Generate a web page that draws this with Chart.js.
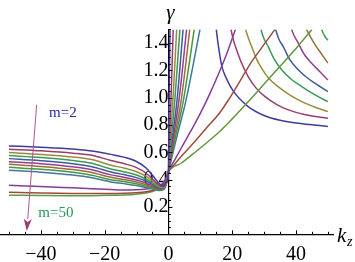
<!DOCTYPE html>
<html>
<head>
<meta charset="utf-8">
<script src="https://cdn.jsdelivr.net/npm/chart.js@4.4.0/dist/chart.umd.min.js"></script>
<style>
  html, body { margin: 0; padding: 0; background: #fff; }
</style>
</head>
<body>
<canvas id="chart" width="355" height="262"></canvas>
<script>
// ───────────────
// Data: gamma against k_z, twelve curves (m = 2 ... 50)

// left branches, all sampled on the same k_z values
const kLeft = [-50, -40, -30, -24, -18, -14, -10, -7, -5, -3.5, -2.5, -1.5, -0.7, 0];

const left1  = [0.647, 0.638, 0.625, 0.610, 0.585, 0.565, 0.533, 0.485, 0.432, 0.388, 0.364, 0.356, 0.380, 0.45];
const left2  = [0.623, 0.611, 0.594, 0.578, 0.540, 0.518, 0.488, 0.447, 0.405, 0.371, 0.353, 0.350, 0.378, 0.45];
const left3  = [0.598, 0.585, 0.566, 0.547, 0.506, 0.485, 0.458, 0.424, 0.390, 0.360, 0.346, 0.345, 0.376, 0.45];
const left4  = [0.576, 0.562, 0.541, 0.520, 0.478, 0.458, 0.434, 0.405, 0.376, 0.351, 0.340, 0.341, 0.374, 0.45];
const left5  = [0.554, 0.539, 0.517, 0.495, 0.456, 0.437, 0.415, 0.390, 0.365, 0.344, 0.335, 0.338, 0.372, 0.45];
const left6  = [0.532, 0.517, 0.494, 0.472, 0.435, 0.418, 0.398, 0.376, 0.355, 0.338, 0.331, 0.335, 0.370, 0.45];
const left7  = [0.513, 0.497, 0.474, 0.452, 0.417, 0.401, 0.383, 0.363, 0.346, 0.333, 0.327, 0.332, 0.368, 0.45];
const left8  = [0.491, 0.476, 0.454, 0.433, 0.400, 0.386, 0.370, 0.352, 0.338, 0.328, 0.324, 0.330, 0.366, 0.45];
const left9  = [0.469, 0.455, 0.434, 0.414, 0.383, 0.371, 0.357, 0.342, 0.331, 0.323, 0.321, 0.328, 0.364, 0.45];
const left10 = [0.359, 0.350, 0.340, 0.334, 0.328, 0.325, 0.326, 0.331, 0.338, 0.348, 0.360, 0.382, 0.413, 0.46];
const left11 = [0.308, 0.303, 0.299, 0.298, 0.298, 0.300, 0.305, 0.312, 0.321, 0.334, 0.348, 0.372, 0.408, 0.458];
const left12 = [0.286, 0.284, 0.283, 0.283, 0.285, 0.288, 0.294, 0.302, 0.313, 0.327, 0.342, 0.368, 0.404, 0.455];

// steep rise just right of k_z = 0 (curves 1-9): k_z where gamma hits these levels
const riseGamma = [0.7, 0.98, 1.5];
const rise1 = [0.09, 0.2, 0.5];
const rise2 = [0.36, 0.8, 1.5];
const rise3 = [0.63, 1.4, 2.6];
const rise4 = [0.9, 2.0, 3.6];
const rise5 = [1.2, 2.7, 4.6];
const rise6 = [1.5, 3.3, 5.7];
const rise7 = [1.8, 4.0, 6.7];
const rise8 = [2.1, 4.7, 8.1];
const rise9 = [2.5, 5.5, 9.9];

// slower rise on the right (curves 10-12)
const tailK10 = [2, 4, 7, 10, 13, 16, 18.5, 21];
const tailG10 = [0.545, 0.63, 0.755, 0.885, 1.03, 1.19, 1.335, 1.5];
const tailK11 = [2, 4, 7.8, 12, 16.1, 19, 22.4, 26, 30, 33.4];
const tailG11 = [0.515, 0.57, 0.667, 0.78, 0.89, 0.99, 1.12, 1.26, 1.39, 1.5];
const tailK12 = [4, 7.8, 12, 16.4, 20, 25, 30, 35, 40, 45];
const tailG12 = [0.52, 0.59, 0.67, 0.76, 0.845, 0.97, 1.1, 1.23, 1.36, 1.5];

// falling right branches (curves 1-8)
const arcK1 = [15.0, 15.6, 16.7, 18.2, 20.3, 25, 30, 35, 42, 50];
const arcG1 = [1.5, 1.39, 1.235, 1.14, 1.05, 0.935, 0.87, 0.835, 0.81, 0.79];
const arcK2 = [19.6, 20.4, 21.4, 23, 25, 27.5, 30.3, 34, 37.6, 43, 50];
const arcG2 = [1.5, 1.42, 1.35, 1.25, 1.155, 1.07, 1.008, 0.95, 0.911, 0.875, 0.85];
const arcK3 = [24.2, 25, 26.1, 27.5, 29.2, 31.5, 34.4, 38, 41.8, 46, 50];
const arcG3 = [1.5, 1.44, 1.374, 1.29, 1.216, 1.14, 1.081, 1.02, 0.971, 0.93, 0.898];
const arcK4 = [29, 30, 31.3, 33.2, 35.5, 38.5, 41.8, 46, 50];
const arcG4 = [1.5, 1.43, 1.374, 1.28, 1.204, 1.135, 1.081, 1.02, 0.971];
const arcK5 = [33.6, 34.6, 36, 38, 40.7, 43, 45.9, 50];
const arcG5 = [1.5, 1.43, 1.374, 1.28, 1.204, 1.155, 1.106, 1.045];
const arcK6 = [38.6, 39.5, 40.7, 42.5, 44.9, 47.5, 50];
const arcG6 = [1.5, 1.45, 1.40, 1.32, 1.253, 1.19, 1.13];
const arcK7 = [43.3, 44.4, 45.9, 48, 50];
const arcG7 = [1.5, 1.45, 1.39, 1.32, 1.253];
const arcK8 = [48, 49, 50];
const arcG8 = [1.5, 1.45, 1.42];

// axes
const xTickValues = [-40, -20, 0, 20, 40];
const xTickLabels = ['\u221240', '\u221220', '0', '20', '40'];
const yTickValues = [0.2, 0.4, 0.6, 0.8, 1.0, 1.2, 1.4];
const yTickLabels = ['0.2', '0.4', '0.6', '0.8', '1.0', '1.2', '1.4'];

// annotation anchors (data units)
const labelTop    = { text: 'm=2',  k: -37.4, g: 0.89 };
const labelBottom = { text: 'm=50', k: -40.8, g: 0.158 };
const arrowFrom = [-41.3, 0.948];
const arrowTo   = [-44.4, 0.024];

// Mathematica-style default colours
const curveColors = [
  'rgb(64,61,153)', 'rgb(153,61,113)', 'rgb(153,139,61)', 'rgb(61,153,85)',
  'rgb(61,90,153)', 'rgb(153,61,144)', 'rgb(153,109,61)', 'rgb(67,153,61)',
  'rgb(61,121,153)', 'rgb(132,61,153)', 'rgb(153,78,61)', 'rgb(98,153,61)'
];

// ───────────────
const zip = (ks, gs) => ks.map((k, i) => ({ x: k, y: gs[i] }));

function curve(points, color) {
  return {
    data: points,
    borderColor: color,
    borderWidth: 1.5,
    pointRadius: 0,
    fill: false,
    cubicInterpolationMode: 'monotone'
  };
}

const lefts = [left1, left2, left3, left4, left5, left6, left7, left8, left9, left10, left11, left12];
const rises = [rise1, rise2, rise3, rise4, rise5, rise6, rise7, rise8, rise9];
const arcs  = [[arcK1, arcG1], [arcK2, arcG2], [arcK3, arcG3], [arcK4, arcG4],
               [arcK5, arcG5], [arcK6, arcG6], [arcK7, arcG7], [arcK8, arcG8]];
const tails = [[tailK10, tailG10], [tailK11, tailG11], [tailK12, tailG12]];

const datasets = [];
rises.forEach((r, i) => {
  datasets.push(curve(zip(kLeft, lefts[i]).concat(zip(r, riseGamma)), curveColors[i]));
});
tails.forEach(([ks, gs], i) => {
  datasets.push(curve(zip(kLeft, lefts[9 + i]).concat(zip(ks, gs)), curveColors[9 + i]));
});
arcs.forEach(([ks, gs], i) => {
  datasets.push(curve(zip(ks, gs), curveColors[i]));
});

// ───────────────
// minor/major tick marks, axis titles, m labels and the arrow
const decorPlugin = {
  id: 'decor',
  afterDraw(chart) {
    const { ctx, chartArea, scales: { x, y } } = chart;
    const x0 = x.getPixelForValue(0);
    const y0 = y.getPixelForValue(0);
    ctx.save();

    // ticks: x every 5, y every 0.05, pointing into the positive side
    ctx.strokeStyle = '#000';
    ctx.lineWidth = 1;
    ctx.beginPath();
    for (let v = -50; v <= 50; v += 5) {
      const px = Math.round(x.getPixelForValue(v)) + 0.5;
      const len = v % 20 === 0 ? 4 : 2.5;
      ctx.moveTo(px, y0);
      ctx.lineTo(px, y0 - len);
    }
    for (let i = 1; i <= 30; i++) {
      const py = Math.round(y.getPixelForValue(i * 0.05)) + 0.5;
      const len = i % 4 === 0 ? 4 : 2.5;
      ctx.moveTo(x0, py);
      ctx.lineTo(x0 + len, py);
    }
    ctx.stroke();

    // axis titles
    ctx.fillStyle = '#000';
    ctx.textBaseline = 'alphabetic';
    ctx.textAlign = 'center';
    ctx.font = 'italic 21px "Liberation Serif"';
    ctx.fillText('\u03b3', x0 + 2, chartArea.top - 10);
    ctx.textAlign = 'left';
    ctx.fillText('k', chartArea.right + 4, y0 + 8);
    ctx.font = 'italic 14px "Liberation Serif"';
    ctx.fillText('z', chartArea.right + 14, y0 + 12);

    // m labels
    ctx.font = '15px "Liberation Serif"';
    ctx.textBaseline = 'middle';
    ctx.fillStyle = 'rgb(40,40,165)';
    ctx.fillText(labelTop.text, x.getPixelForValue(labelTop.k), y.getPixelForValue(labelTop.g));
    ctx.fillStyle = 'rgb(38,150,90)';
    ctx.fillText(labelBottom.text, x.getPixelForValue(labelBottom.k), y.getPixelForValue(labelBottom.g));

    // arrow
    const ax1 = x.getPixelForValue(arrowFrom[0]), ay1 = y.getPixelForValue(arrowFrom[1]);
    const ax2 = x.getPixelForValue(arrowTo[0]),   ay2 = y.getPixelForValue(arrowTo[1]);
    const ang = Math.atan2(ay2 - ay1, ax2 - ax1);
    const headLen = 12, headW = 4;
    const bx = ax2 - headLen * Math.cos(ang), by = ay2 - headLen * Math.sin(ang);
    ctx.strokeStyle = 'rgb(175,85,145)';
    ctx.lineWidth = 1;
    ctx.beginPath();
    ctx.moveTo(ax1, ay1);
    ctx.lineTo(bx, by);
    ctx.stroke();
    ctx.fillStyle = 'rgb(160,60,115)';
    ctx.beginPath();
    ctx.moveTo(ax2, ay2);
    ctx.lineTo(bx + headW * Math.sin(ang), by - headW * Math.cos(ang));
    ctx.lineTo(ax2 - (headLen - 3) * Math.cos(ang), ay2 - (headLen - 3) * Math.sin(ang));
    ctx.lineTo(bx - headW * Math.sin(ang), by + headW * Math.cos(ang));
    ctx.closePath();
    ctx.fill();

    ctx.restore();
  }
};

const axisFont = { family: 'Liberation Serif', size: 20 };

new Chart(document.getElementById('chart'), {
  type: 'line',
  data: { datasets },
  options: {
    responsive: false,
    animation: false,
    layout: { padding: { left: 0, right: 22, top: 29.4, bottom: 27.7 } },
    plugins: { legend: { display: false }, tooltip: { enabled: false } },
    scales: {
      x: {
        type: 'linear',
        position: { y: 0 },
        min: -52.8,
        max: 51.6,
        afterFit: s => { s.height = 0; },
        afterBuildTicks: s => { s.ticks = xTickValues.map(v => ({ value: v })); },
        grid: { display: false, drawTicks: false },
        border: { display: true, color: '#000', width: 1.2 },
        ticks: {
          autoSkip: false, maxRotation: 0, padding: 8, color: '#000', font: axisFont,
          callback: (v, i) => xTickLabels[i]
        }
      },
      y: {
        type: 'linear',
        position: { x: 0 },
        min: 0,
        max: 1.5,
        afterFit: s => { s.width = 0; },
        afterBuildTicks: s => { s.ticks = yTickValues.map(v => ({ value: v })); },
        grid: { display: false, drawTicks: false },
        border: { display: true, color: '#000', width: 1.2 },
        ticks: {
          autoSkip: false, padding: 4, color: '#000', font: axisFont,
          callback: (v, i) => yTickLabels[i]
        }
      }
    }
  },
  plugins: [decorPlugin]
});
</script>
</body>
</html>
